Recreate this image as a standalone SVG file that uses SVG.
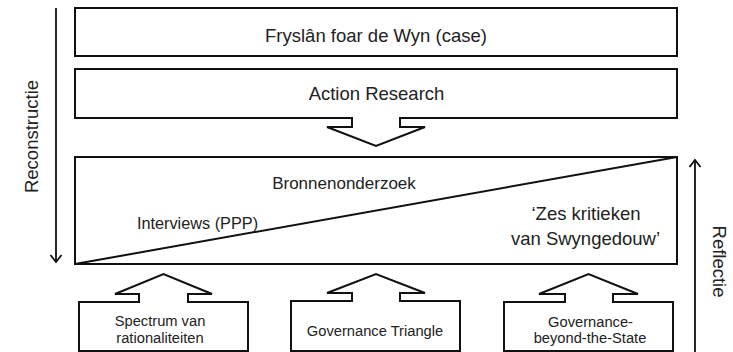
<svg xmlns="http://www.w3.org/2000/svg" width="733" height="352" viewBox="0 0 733 352">
  <defs>
    <style>
      .box { fill: #fff; stroke: #111; stroke-width: 2; }
      .edge { fill: none; stroke: #111; stroke-width: 2; stroke-linejoin: miter; }
      .blank { fill: #fff; stroke: none; }
      .flow { fill: none; stroke: #111; stroke-width: 1.8; }
      .lbl { font-family: "Liberation Sans", Arial, sans-serif; fill: #222; text-anchor: middle; }
      .big { font-size: 18.5px; }
      .mid { font-size: 17px; }
      .small { font-size: 14.7px; }
    </style>
    <marker id="chev" markerUnits="userSpaceOnUse" markerWidth="14" markerHeight="14" refX="8" refY="6" orient="auto" viewBox="0 0 14 12">
      <path d="M1,0.5 L8,6 L1,11.5" fill="none" stroke="#111" stroke-width="1.8"/>
    </marker>
  </defs>

  <!-- side arrows -->
  <g id="connectors">
    <line class="flow" x1="56" y1="8" x2="56" y2="262" marker-end="url(#chev)"/>
    <line class="flow" x1="695" y1="352" x2="695" y2="160" marker-end="url(#chev)"/>
  </g>

  <g id="reconstructie">
    <text class="lbl big" transform="translate(38,136.5) rotate(-90)">Reconstructie</text>
  </g>
  <g id="reflectie">
    <text class="lbl big" transform="translate(713,261.5) rotate(90)">Reflectie</text>
  </g>

  <!-- case -->
  <g id="case">
    <rect class="box" x="75" y="8" width="602" height="48"/>
    <text class="lbl big" x="376" y="42">Fryslân foar de Wyn (case)</text>
  </g>

  <!-- action research, with block arrow pointing down -->
  <g id="action-research">
    <rect class="box" x="75" y="69" width="602" height="49"/>
    <path class="blank" d="M353,116 L399,116 L399,127 L425,127 L376,146 L327,127 L353,127 Z"/>
    <path class="edge" d="M352,118 L352,127 L327,127 L376,146 L425,127 L400,127 L400,118"/>
    <text class="lbl big" x="376.5" y="100">Action Research</text>
  </g>

  <!-- analysis block split by a diagonal -->
  <g id="analysis">
    <rect class="box" x="75" y="157" width="602" height="107"/>
    <line class="edge" x1="75" y1="264" x2="677" y2="157"/>
    <text class="lbl mid" x="344" y="189">Bronnenonderzoek</text>
    <text class="lbl" style="font-size:16.3px" x="197.5" y="229">Interviews (PPP)</text>
    <text class="lbl big" x="586" y="220">‘Zes kritieken</text>
    <text class="lbl big" x="585.5" y="245">van Swyngedouw’</text>
  </g>

  <!-- theory inputs with block arrows pointing up -->
  <g id="spectrum">
    <rect class="box" x="79" y="302" width="169" height="49"/>
    <path class="blank" d="M140,304 L187,304 L187,294 L212,294 L163.5,274 L115,294 L140,294 Z"/>
    <path class="edge" d="M139,302 L139,294 L115,294 L163.5,274 L212,294 L188,294 L188,302"/>
    <text class="lbl small" x="160" y="326">Spectrum van</text>
    <text class="lbl small" x="160" y="343">rationaliteiten</text>
  </g>

  <g id="triangle">
    <rect class="box" x="291" y="301" width="169" height="50"/>
    <path class="blank" d="M353,303 L399,303 L399,293 L425,293 L376,274 L327,293 L353,293 Z"/>
    <path class="edge" d="M352,301 L352,293 L327,293 L376,274 L425,293 L400,293 L400,301"/>
    <text class="lbl small" x="375" y="336">Governance Triangle</text>
  </g>

  <g id="beyond-state">
    <rect class="box" x="504" y="302" width="169" height="49"/>
    <path class="blank" d="M566,304 L612,304 L612,294 L638,294 L588.5,274 L539,294 L566,294 Z"/>
    <path class="edge" d="M565,302 L565,294 L539,294 L588.5,274 L638,294 L613,294 L613,302"/>
    <text class="lbl small" x="590.5" y="327">Governance-</text>
    <text class="lbl small" x="590" y="343">beyond-the-State</text>
  </g>
</svg>
